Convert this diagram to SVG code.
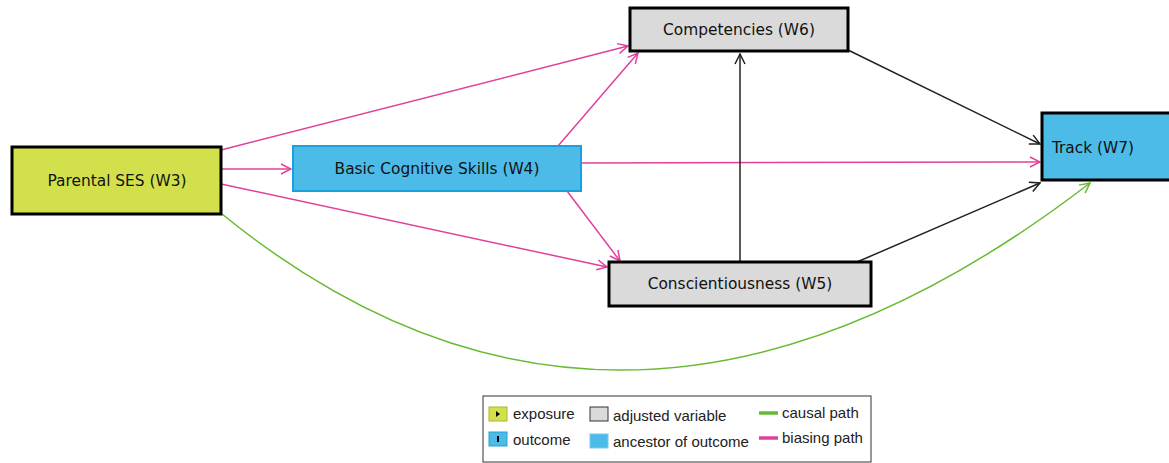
<svg xmlns="http://www.w3.org/2000/svg" width="1169" height="463" viewBox="0 0 1169 463">
<style>
.node text{font-family:"DejaVu Sans",sans-serif;font-size:15.4px;fill:#111;text-anchor:middle;dominant-baseline:central}
.exp{fill:#d2e14b;stroke:#000;stroke-width:3}
.anc{fill:#4cbbe8;stroke:#1aa0dc;stroke-width:2}
.adj{fill:#dadada;stroke:#000;stroke-width:3}
.out{fill:#4cbbe8;stroke:#000;stroke-width:3}
.e{fill:none;stroke-width:1.5}
.pink{stroke:#e0409a}
.blk{stroke:#222}
.grn{stroke:#66bb33}
.leg text{font-family:"Liberation Sans",Arial,sans-serif;font-size:15px;fill:#222}
</style>
<defs>
<marker id="mp" viewBox="0 0 12 12" refX="11" refY="6" markerWidth="12" markerHeight="12" markerUnits="userSpaceOnUse" orient="auto"><path d="M1,1 L11,6 L1,11" fill="none" stroke="#e0409a" stroke-width="1.5"/></marker>
<marker id="mk" viewBox="0 0 12 12" refX="11" refY="6" markerWidth="12" markerHeight="12" markerUnits="userSpaceOnUse" orient="auto"><path d="M1,1 L11,6 L1,11" fill="none" stroke="#222" stroke-width="1.5"/></marker>
<marker id="mg" viewBox="0 0 12 12" refX="11" refY="6" markerWidth="12" markerHeight="12" markerUnits="userSpaceOnUse" orient="auto"><path d="M1,1 L11,6 L1,11" fill="none" stroke="#66bb33" stroke-width="1.5"/></marker>
</defs>
<rect width="1169" height="463" fill="#fff"/>
<g id="edges">
<path class="e pink" d="M221,150 L628,46" marker-end="url(#mp)"/>
<path class="e pink" d="M221,169 L291,169" marker-end="url(#mp)"/>
<path class="e pink" d="M221,184 L607,267" marker-end="url(#mp)"/>
<path class="e pink" d="M558,146 L638,53" marker-end="url(#mp)"/>
<path class="e pink" d="M567,191 L620,261" marker-end="url(#mp)"/>
<path class="e pink" d="M581,163 L1040,162" marker-end="url(#mp)"/>
<path class="e blk" d="M848,50 L1040,144" marker-end="url(#mk)"/>
<path class="e blk" d="M857,262 L1040,183" marker-end="url(#mk)"/>
<path class="e blk" d="M740,262 L740,54" marker-end="url(#mk)"/>
<path class="e grn" d="M222,214 Q624,541 1090,183" marker-end="url(#mg)"/>
</g>
<g id="ses" class="node"><rect class="exp" x="12" y="147" width="209" height="67"/><text x="117" y="181">Parental SES (W3)</text></g>
<g id="bcs" class="node"><rect class="anc" x="293" y="146" width="288" height="45"/><text x="437" y="169">Basic Cognitive Skills (W4)</text></g>
<g id="comp" class="node"><rect class="adj" x="630" y="8" width="218" height="43"/><text x="739" y="30">Competencies (W6)</text></g>
<g id="consc" class="node"><rect class="adj" x="609" y="262" width="262" height="44"/><text x="740" y="284">Conscientiousness (W5)</text></g>
<g id="track" class="node"><rect class="out" x="1042" y="113" width="130" height="67"/><text x="1093" y="148">Track (W7)</text></g>
<g id="legend" class="leg">
<rect x="483" y="396" width="388" height="66" fill="#fff" stroke="#333" stroke-width="1"/>
<rect x="489" y="407" width="18" height="14" fill="#d2e14b" stroke="#aab832" stroke-width="1"/>
<path d="M496,411 L500,414 L496,417Z" fill="#000"/>
<text x="513" y="419">exposure</text>
<rect x="489" y="432" width="18" height="14" fill="#4cbbe8" stroke="#2a9fd0" stroke-width="1"/>
<rect x="497" y="436" width="2" height="6" fill="#000"/>
<text x="513" y="445">outcome</text>
<rect x="590" y="407" width="18" height="14" fill="#dadada" stroke="#333" stroke-width="1"/>
<text x="613" y="421">adjusted variable</text>
<rect x="590" y="434" width="18" height="14" fill="#4cbbe8" stroke="#7cc8ea" stroke-width="1"/>
<text x="613" y="447">ancestor of outcome</text>
<path d="M759,413 L778,413" stroke="#66bb33" stroke-width="3.5"/>
<text x="782" y="418">causal path</text>
<path d="M759,438 L778,438" stroke="#e0409a" stroke-width="3.5"/>
<text x="782" y="443">biasing path</text>
</g>
</svg>
